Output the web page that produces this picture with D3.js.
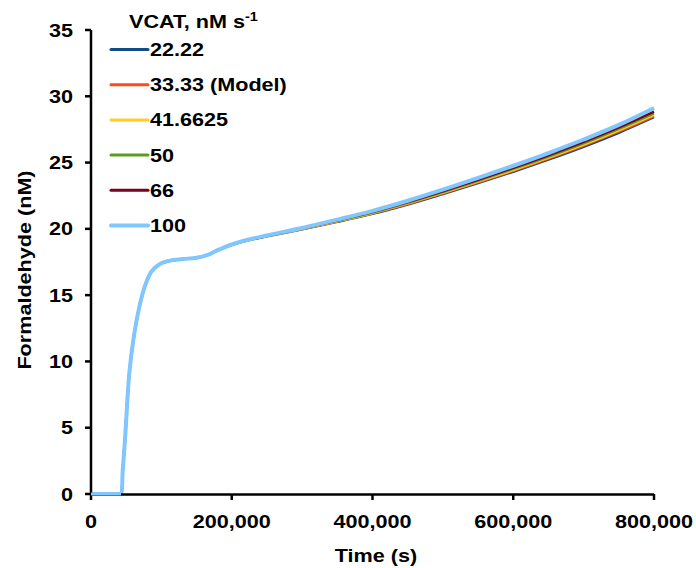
<!DOCTYPE html>
<html>
<head>
<meta charset="utf-8">
<script src="https://cdn.jsdelivr.net/npm/d3@7"></script>
<style>
  html, body { margin: 0; padding: 0; background: #fff; }
  text { font-family: "Liberation Sans", Arial, sans-serif; font-weight: bold; fill: #000; }
</style>
</head>
<body>
<div id="chart"></div>
<script>
// --- DATA ---
const times = [0, 40000, 42600, 45000, 48300, 54400, 60100, 68600, 76700, 86200, 98000, 112000, 130000, 150000,
  165000, 180000, 200000, 220000, 250000, 300000, 350000, 400000, 450000, 500000, 550000, 600000,
  650000, 700000, 750000, 800000];

const vcat22 = [0, 0, 0, 1.7, 4.1, 9.1, 11.6, 14.1, 15.7, 16.8, 17.35, 17.6, 17.72, 17.82, 18.02, 18.38, 18.8, 19.1, 19.44,
  19.97, 20.53, 21.13, 21.84, 22.63, 23.45, 24.31, 25.22, 26.19, 27.25, 28.42];
const vcat33 = [0, 0, 0, 1.7, 4.1, 9.1, 11.6, 14.1, 15.7, 16.8, 17.35, 17.6, 17.72, 17.82, 18.02, 18.38, 18.8, 19.1, 19.45,
  19.99, 20.56, 21.17, 21.88, 22.68, 23.51, 24.38, 25.3, 26.28, 27.35, 28.51];
const vcat41 = [0, 0, 0, 1.7, 4.1, 9.1, 11.6, 14.1, 15.7, 16.8, 17.35, 17.6, 17.72, 17.82, 18.02, 18.38, 18.8, 19.1, 19.45,
  20.0, 20.58, 21.2, 21.92, 22.72, 23.56, 24.44, 25.37, 26.36, 27.44, 28.6];
const vcat50 = [0, 0, 0, 1.7, 4.1, 9.1, 11.6, 14.1, 15.7, 16.8, 17.35, 17.6, 17.72, 17.82, 18.02, 18.38, 18.8, 19.11, 19.46,
  20.02, 20.61, 21.24, 21.97, 22.78, 23.63, 24.52, 25.46, 26.46, 27.55, 28.72];
const vcat66 = [0, 0, 0, 1.7, 4.1, 9.1, 11.6, 14.1, 15.7, 16.8, 17.35, 17.6, 17.72, 17.82, 18.02, 18.38, 18.81, 19.12, 19.47,
  20.04, 20.64, 21.28, 22.02, 22.84, 23.7, 24.6, 25.55, 26.56, 27.66, 28.85];
const vcat100 = [0, 0, 0, 1.7, 4.1, 9.1, 11.6, 14.1, 15.7, 16.8, 17.35, 17.6, 17.72, 17.82, 18.02, 18.39, 18.82, 19.14, 19.5,
  20.07, 20.7, 21.36, 22.12, 22.96, 23.84, 24.76, 25.72, 26.74, 27.84, 29.12];

const seriesNames = ["22.22", "33.33 (Model)", "41.6625", "50", "66", "100"];
const seriesValues = [vcat22, vcat33, vcat41, vcat50, vcat66, vcat100];
const seriesColors = ["#124a85", "#ff4b14", "#ffcc22", "#5a9e1f", "#7a0025", "#80c6ff"];
const seriesWidths = [2.5, 2.5, 2.5, 2.5, 2.5, 4];

const xTicks = [0, 200000, 400000, 600000, 800000];
const yTicks = [0, 5, 10, 15, 20, 25, 30, 35];

// --- LAYOUT ---
const width = 696, height = 568;
const margin = { top: 30, right: 42, bottom: 74, left: 91 };
const sx = 1.2; // text in the picture is stretched along its direction

const x = d3.scaleLinear().domain([0, 800000]).range([margin.left, width - margin.right]);
const y = d3.scaleLinear().domain([0, 35]).range([height - margin.bottom, margin.top]);

const svg = d3.select("#chart").append("svg")
  .attr("width", width).attr("height", height);

function label(g, tx, ty, str, anchor, size) {
  return g.append("text")
    .attr("transform", `translate(${tx},${ty}) scale(${sx},1)`)
    .attr("text-anchor", anchor)
    .style("font-size", size + "px")
    .text(str);
}

// --- LINES ---
const line = d3.line()
  .x((d, i) => x(times[i]))
  .y(d => y(d))
  .curve(d3.curveCatmullRom.alpha(0.5));

svg.append("g").selectAll("path")
  .data(seriesValues)
  .join("path")
    .attr("fill", "none")
    .attr("stroke", (d, i) => seriesColors[i])
    .attr("stroke-width", (d, i) => seriesWidths[i])
    .attr("stroke-linejoin", "round")
    .attr("d", line);

// --- AXES ---
const axis = svg.append("g");
axis.append("line")
  .attr("x1", x(0)).attr("x2", x(0)).attr("y1", y(35)).attr("y2", y(0))
  .attr("stroke", "#000").attr("stroke-width", 2.5);
axis.append("line")
  .attr("x1", x(0)).attr("x2", x(800000)).attr("y1", y(0) + 0.5).attr("y2", y(0) + 0.5)
  .attr("stroke", "#000").attr("stroke-width", 2.5);

yTicks.forEach(v => {
  axis.append("line")
    .attr("x1", x(0) - 6).attr("x2", x(0)).attr("y1", y(v)).attr("y2", y(v))
    .attr("stroke", "#000").attr("stroke-width", 2.5);
  label(axis, x(0) - 18, y(v) + 6.5, v, "end", 18);
});

const fmt = d3.format(",");
xTicks.forEach(v => {
  axis.append("line")
    .attr("x1", x(v)).attr("x2", x(v)).attr("y1", y(0)).attr("y2", y(0) + 6)
    .attr("stroke", "#000").attr("stroke-width", 2.5);
  label(axis, x(v), y(0) + 34, fmt(v), "middle", 18);
});

label(axis, 376, 562, "Time (s)", "middle", 18);

axis.append("text")
  .attr("transform", `translate(31,270) rotate(-90) scale(${sx},1)`)
  .attr("text-anchor", "middle")
  .style("font-size", "18px")
  .text("Formaldehyde (nM)");

// redraw the flat start of the top series over the x axis, as in the picture
svg.append("line")
  .attr("x1", x(0)).attr("x2", x(times[2])).attr("y1", y(0)).attr("y2", y(0))
  .attr("stroke", seriesColors[5]).attr("stroke-width", 3);

// --- LEGEND ---
const legend = svg.append("g");
const title = legend.append("text")
  .attr("transform", `translate(129,28) scale(${sx},1)`)
  .style("font-size", "18px");
title.append("tspan").text("VCAT, nM s");
title.append("tspan").attr("dy", -7).style("font-size", "12px").text("-1");

seriesNames.forEach((name, i) => {
  const ly = 49.5 + i * 35.2;
  legend.append("line")
    .attr("x1", 111).attr("x2", 148).attr("y1", ly).attr("y2", ly)
    .attr("stroke", seriesColors[i])
    .attr("stroke-width", i === 5 ? 4 : 3)
    .attr("stroke-linecap", "round");
  label(legend, 150, ly + 6.5, name, "start", 18);
});
</script>
</body>
</html>
